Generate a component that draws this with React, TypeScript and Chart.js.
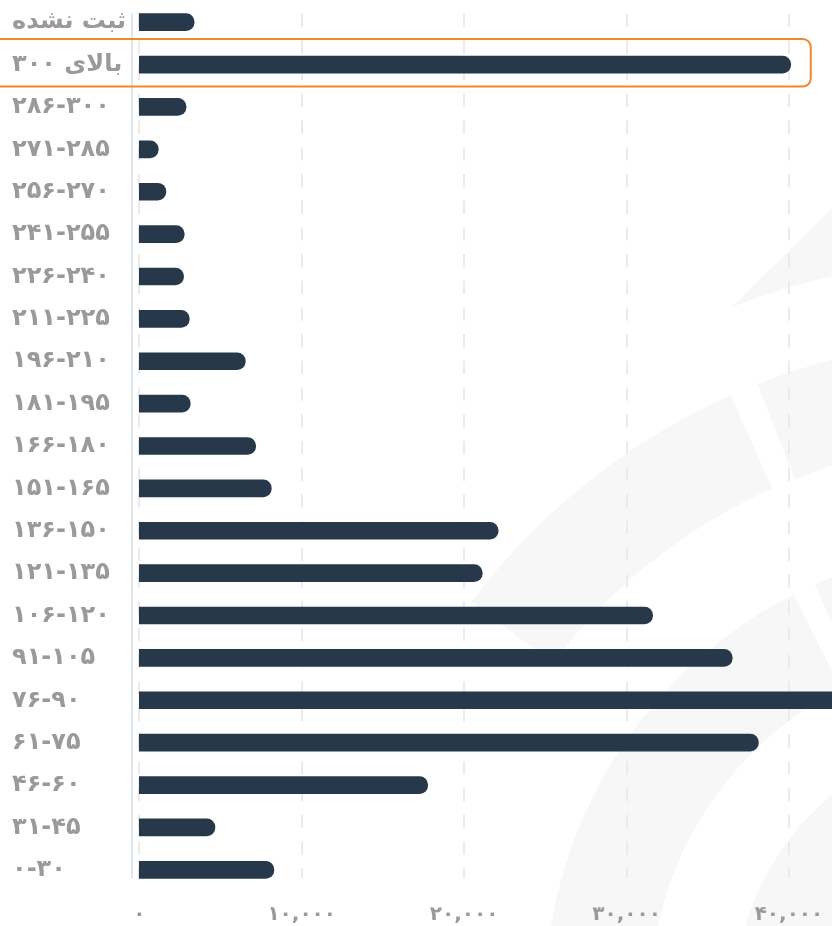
import React, { useEffect, useRef } from 'react';
import { Chart, registerables } from 'chart.js';

Chart.register(...registerables);

// ---- data ----
const categories = [
  'ثبت نشده',
  'بالای ۳۰۰',
  '۲۸۶-۳۰۰',
  '۲۷۱-۲۸۵',
  '۲۵۶-۲۷۰',
  '۲۴۱-۲۵۵',
  '۲۲۶-۲۴۰',
  '۲۱۱-۲۲۵',
  '۱۹۶-۲۱۰',
  '۱۸۱-۱۹۵',
  '۱۶۶-۱۸۰',
  '۱۵۱-۱۶۵',
  '۱۳۶-۱۵۰',
  '۱۲۱-۱۳۵',
  '۱۰۶-۱۲۰',
  '۹۱-۱۰۵',
  '۷۶-۹۰',
  '۶۱-۷۵',
  '۴۶-۶۰',
  '۳۱-۴۵',
  '۰-۳۰',
];
const counts = [
  3380, 40110, 2880, 1170, 1640, 2770, 2730, 3080, 6530, 3140, 7170, 8130,
  22100, 21120, 31610, 36510, 45500, 38120, 17760, 4660, 8290,
];
const xTickValues = [0, 10000, 20000, 30000, 40000];
const highlightedCategory = 'بالای ۳۰۰';

const FONT = "'DejaVu Sans', sans-serif";
const persianDigits = '۰۱۲۳۴۵۶۷۸۹';
const toPersian = (s: string) => s.replace(/[0-9]/g, (d) => persianDigits[Number(d)]);

function sectorPath(ctx: CanvasRenderingContext2D, cx: number, cy: number, r0: number, r1: number, a0: number, a1: number) {
  const k = Math.PI / 180;
  ctx.beginPath();
  ctx.arc(cx, cy, r1, a0 * k, a1 * k);
  ctx.arc(cx, cy, r0, a1 * k, a0 * k, true);
  ctx.closePath();
}

function sector(ctx: CanvasRenderingContext2D, cx: number, cy: number, r0: number, r1: number, a0: number, a1: number) {
  sectorPath(ctx, cx, cy, r0, r1, a0, a1);
  ctx.fill();
}

const decorPlugin = {
  id: 'decor',
  beforeDraw(chart: any) {
    const { ctx } = chart;
    ctx.save();
    ctx.fillStyle = '#ffffff';
    ctx.fillRect(0, 0, chart.width, chart.height);
    // faint watermark logo (decorative background)
    ctx.fillStyle = '#f7f7f7';
    const cx = 1000, cy = 1000;
    sector(ctx, cx, cy, 165, 265, -195, -60);
    sector(ctx, cx, cy, 350, 455, -190, -117);
    sector(ctx, cx, cy, 350, 455, -114, -60);
    sector(ctx, cx, cy, 560, 662, -143, -114);
    sector(ctx, cx, cy, 560, 662, -111.5, -60);
    ctx.save();
    ctx.beginPath();
    ctx.moveTo(639, 399);
    ctx.lineTo(1039, 3);
    ctx.lineTo(1400, 400);
    ctx.lineTo(1000, 800);
    ctx.closePath();
    ctx.clip();
    sector(ctx, cx, cy, 743, 850, -130, -60);
    ctx.restore();
    ctx.restore();
  },
  beforeDatasetsDraw(chart: any) {
    const { ctx, chartArea } = chart;
    const x = chart.scales.x;
    const y = chart.scales.y;
    const half = 8.5;
    const top = y.getPixelForValue(0) - half;
    const bottom = y.getPixelForValue(categories.length - 1) + half;
    ctx.save();
    ctx.lineWidth = 2;
    ctx.strokeStyle = '#ebebeb';
    ctx.setLineDash([13.3, 13.4]);
    xTickValues.forEach((v) => {
      const px = Math.round(x.getPixelForValue(v));
      ctx.beginPath();
      ctx.moveTo(px, top);
      ctx.lineTo(px, bottom);
      ctx.stroke();
    });
    ctx.setLineDash([]);
    ctx.strokeStyle = '#dfe5ec';
    ctx.beginPath();
    ctx.moveTo(chartArea.left + 1, top);
    ctx.lineTo(chartArea.left + 1, bottom);
    ctx.stroke();
    ctx.restore();
  },
  afterDatasetsDraw(chart: any) {
    const { ctx } = chart;
    const x = chart.scales.x;
    const y = chart.scales.y;
    const idx = categories.indexOf(highlightedCategory);
    const cyp = y.getPixelForValue(idx);
    const top = cyp - 25.5;
    const bottom = cyp + 22;
    const left = -12;
    const right = x.getPixelForValue(counts[idx]) + 20;
    const r = 8;
    ctx.save();
    ctx.strokeStyle = '#f0892b';
    ctx.lineWidth = 2;
    ctx.beginPath();
    ctx.moveTo(left + r, top);
    ctx.lineTo(right - r, top);
    ctx.arcTo(right, top, right, top + r, r);
    ctx.lineTo(right, bottom - r);
    ctx.arcTo(right, bottom, right - r, bottom, r);
    ctx.lineTo(left + r, bottom);
    ctx.arcTo(left, bottom, left, bottom - r, r);
    ctx.lineTo(left, top + r);
    ctx.arcTo(left, top, left + r, top, r);
    ctx.closePath();
    ctx.stroke();
    ctx.restore();
  },
};

export default function App() {
  const ref = useRef<HTMLCanvasElement | null>(null);

  useEffect(() => {
    if (!ref.current) return;
    const chart = new Chart(ref.current, {
      type: 'bar',
      data: {
        labels: categories,
        datasets: [
          {
            data: counts,
            backgroundColor: '#263849',
            barThickness: 17,
            borderSkipped: false,
            borderRadius: { topLeft: 0, bottomLeft: 0, topRight: 8.5, bottomRight: 8.5 },
          },
        ],
      },
      options: {
        indexAxis: 'y',
        animation: false,
        responsive: false,
        devicePixelRatio: 1,
        layout: { padding: { left: 12, top: 1, right: 0, bottom: 0 } },
        plugins: { legend: { display: false }, tooltip: { enabled: false } },
        scales: {
          x: {
            type: 'linear',
            min: -510,
            max: 42650,
            grid: { display: false, drawTicks: false },
            border: { display: false },
            ticks: {
              color: '#9a9a9a',
              font: { family: FONT, size: 20, weight: 'bold' },
              padding: 12,
              maxRotation: 0,
              callback: (v: any) => toPersian(Number(v).toLocaleString('en-US')),
            },
            afterBuildTicks: (scale: any) => {
              scale.ticks = xTickValues.map((v) => ({ value: v }));
            },
            afterFit: (scale: any) => {
              scale.height = 35;
              scale.paddingLeft = 0;
              scale.paddingRight = 0;
            },
          },
          y: {
            type: 'category',
            grid: { display: false, drawTicks: false },
            border: { display: false },
            ticks: {
              color: '#9a9a9a',
              font: { family: FONT, size: 24, weight: 'bold' },
              crossAlign: 'far',
              padding: 0,
              autoSkip: false,
            },
            afterFit: (scale: any) => {
              scale.width = 119;
              scale.paddingTop = 0;
              scale.paddingBottom = 0;
            },
          },
        },
      },
      plugins: [decorPlugin],
    } as any);
    return () => chart.destroy();
  }, []);

  return (
    <div style={{ position: 'absolute', left: 0, top: 0, width: 832, height: 926, overflow: 'hidden', background: '#fff' }}>
      <canvas ref={ref} width={832} height={926} style={{ display: 'block' }} />
    </div>
  );
}
